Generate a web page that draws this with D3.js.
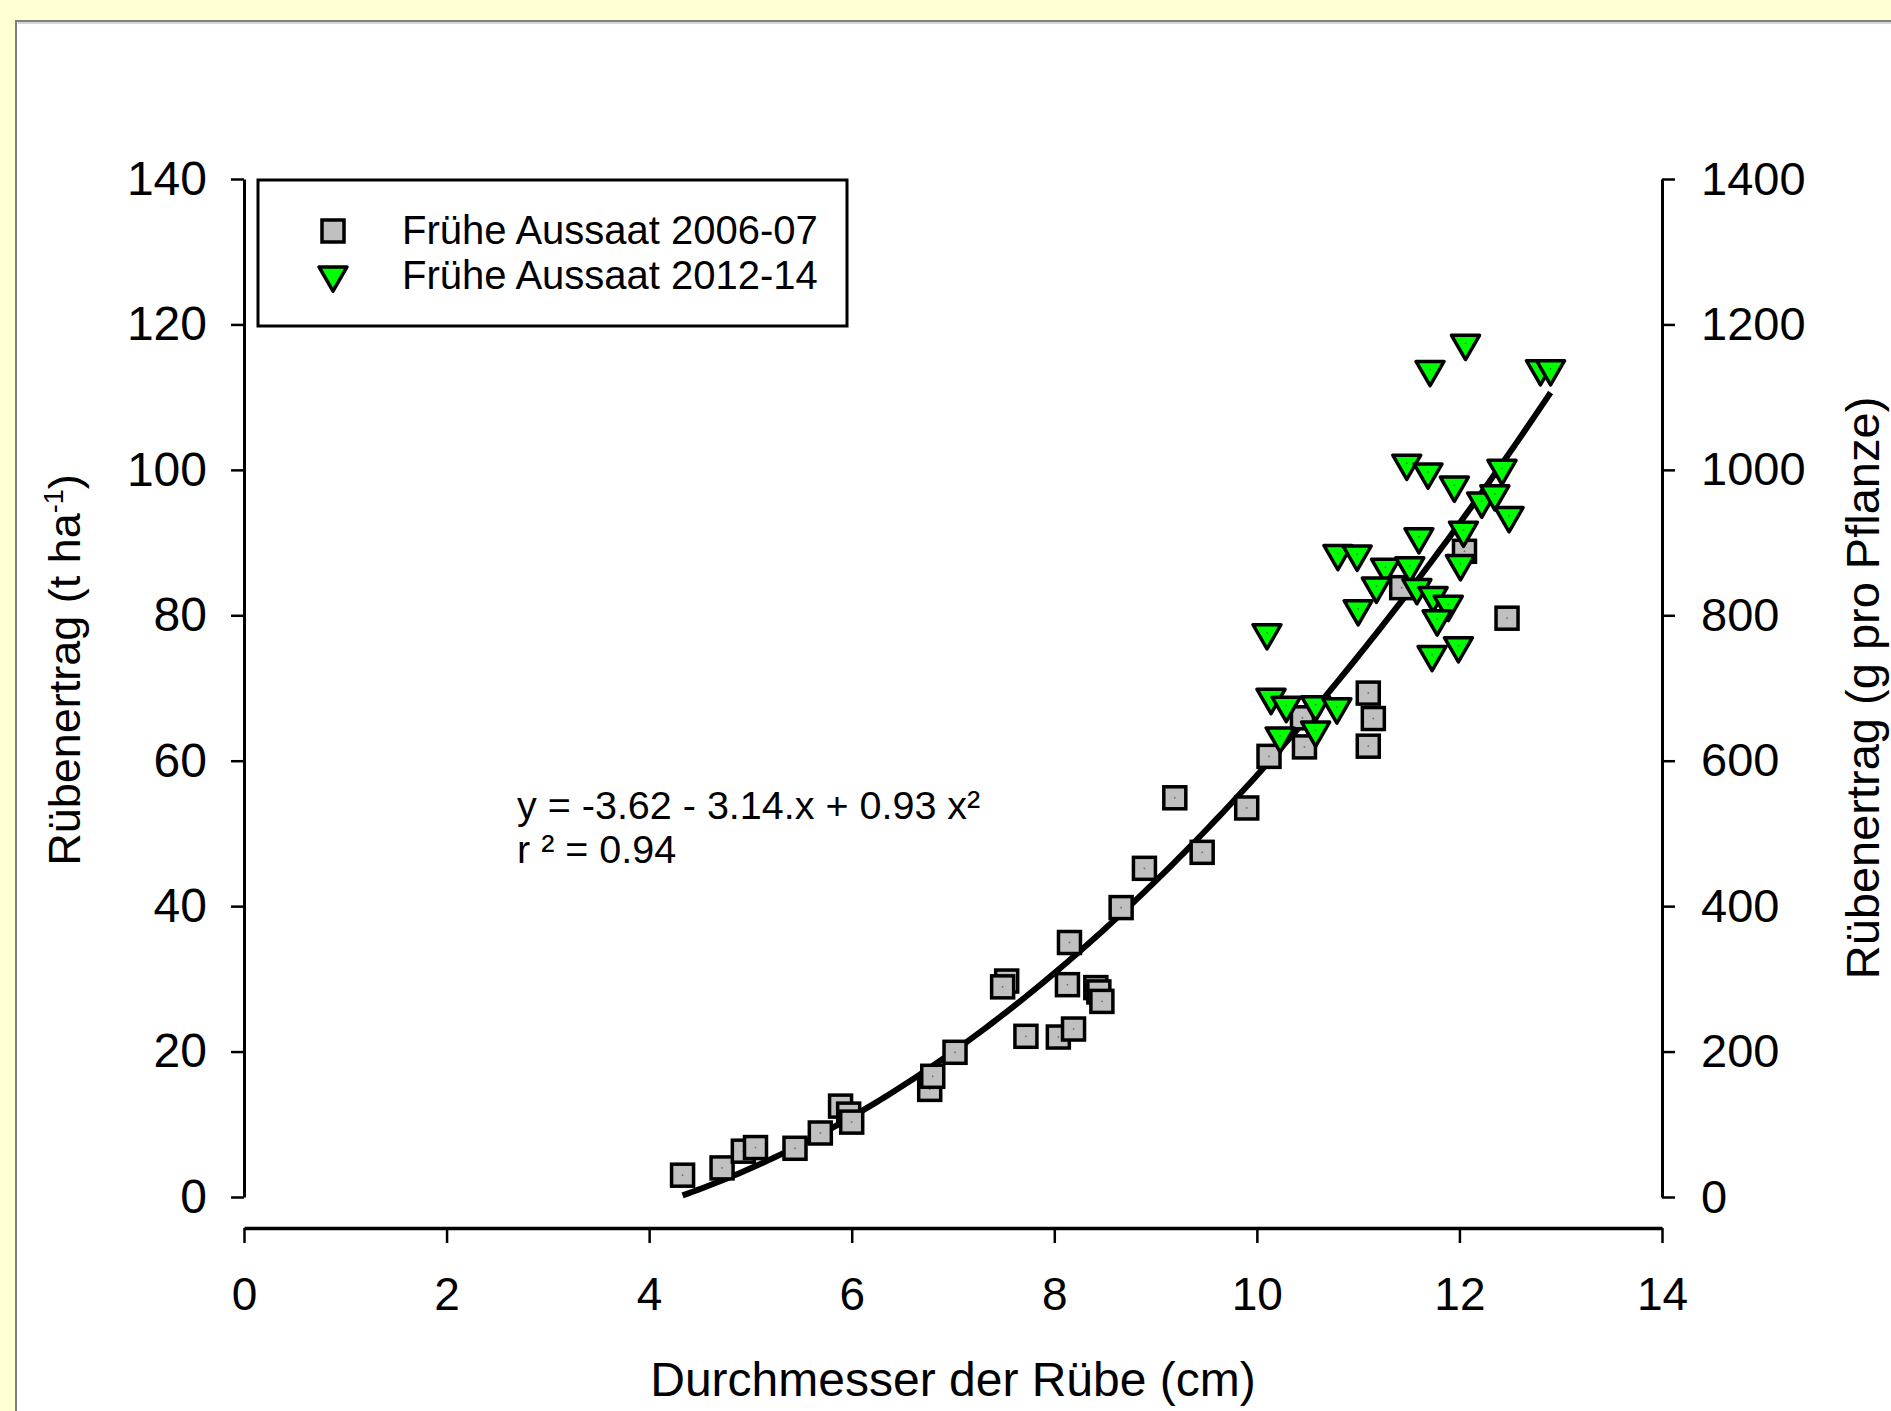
<!DOCTYPE html>
<html>
<head>
<meta charset="utf-8">
<script src="https://cdn.jsdelivr.net/npm/d3@7"></script>
<style>
  html, body { margin: 0; padding: 0; background: #ffffd4; }
  svg { display: block; }
  text { font-family: "Liberation Sans", Arial, sans-serif; fill: #000; }
</style>
</head>
<body>
<script>
// Rübendurchmesser (cm) und Rübenertrag (t/ha), frühe Aussaat 2006-07
const diam2006 = [4.33, 4.72, 4.93, 5.05, 5.44, 5.69, 5.89, 5.97, 6.00, 6.77, 6.80, 7.02,
  7.53, 7.49, 7.72, 8.04, 8.19, 8.13, 8.15, 8.41, 8.44, 8.47, 8.66, 8.89,
  9.19, 9.46, 9.90, 10.12, 10.47, 10.45, 11.10, 11.15, 11.10, 11.43, 12.05, 12.47];
const yield2006 = [3.0, 4.0, 6.3, 6.8, 6.7, 8.8, 12.5, 11.4, 10.3, 14.8, 16.6, 19.9,
  29.7, 28.9, 22.1, 22.0, 23.1, 29.2, 35.0, 28.8, 28.2, 26.9, 39.8, 45.2,
  54.9, 47.4, 53.5, 60.6, 61.9, 65.9, 69.3, 65.8, 62.0, 83.8, 88.8, 79.6];

// frühe Aussaat 2012-14
const diam2012 = [12.06, 11.71, 12.80, 12.90, 11.48, 11.69, 11.95, 12.42, 12.22, 12.35, 12.49,
  12.04, 11.60, 10.80, 10.99, 11.27, 11.51, 12.01, 11.18, 11.58, 11.74, 11.89,
  11.78, 11.00, 10.10, 11.99, 11.73, 10.14, 10.29, 10.58, 10.79, 10.23, 10.58];
const yield2012 = [117.4, 113.8, 113.9, 113.9, 100.9, 99.7, 97.9, 100.2, 95.7, 96.7, 93.7,
  91.7, 90.8, 88.5, 88.4, 86.6, 86.8, 87.1, 84.0, 83.8, 82.7, 81.5,
  79.5, 80.9, 77.6, 75.8, 74.6, 68.7, 67.6, 67.7, 67.4, 63.4, 64.2];

// quadratische Regression: y = b0 + b1*x + b2*x^2
const fitCoef = [-3.62, -3.14, 0.93];
const fitRange = [4.33, 12.9];
const fitLabel = ["y = -3.62 - 3.14.x + 0.93 x²", "r ² = 0.94"];

const xTicks = [0, 2, 4, 6, 8, 10, 12, 14];
const yTicks = [0, 20, 40, 60, 80, 100, 120, 140];
const y2Ticks = [0, 200, 400, 600, 800, 1000, 1200, 1400];
const seriesNames = ["Frühe Aussaat 2006-07", "Frühe Aussaat 2012-14"];

const W = 1891, H = 1411;
const svg = d3.select("body").append("svg").attr("width", W).attr("height", H);

// Seitenhintergrund und weißes Blatt mit grauer Kante
svg.append("rect").attr("width", W).attr("height", H).attr("fill", "#ffffd4");
svg.append("rect").attr("x", 17).attr("y", 22).attr("width", W).attr("height", H).attr("fill", "#fff");
svg.append("line").attr("x1", 16).attr("x2", W).attr("y1", 21).attr("y2", 21)
  .attr("stroke", "#7f7f7f").attr("stroke-width", 2);
svg.append("line").attr("x1", 18).attr("x2", W).attr("y1", 23).attr("y2", 23)
  .attr("stroke", "#c8c8c8").attr("stroke-width", 1.5);
svg.append("line").attr("x1", 16).attr("x2", 16).attr("y1", 20).attr("y2", H)
  .attr("stroke", "#7f7f7f").attr("stroke-width", 2);

const x = d3.scaleLinear().domain([0, 14]).range([244, 1662]);
const y = d3.scaleLinear().domain([0, 140]).range([1197, 179]);
const y2 = d3.scaleLinear().domain([0, 1400]).range([1197, 179]);

function styleAxis(g, w, fs) {
  g.selectAll("path.domain").attr("stroke", "#000").attr("stroke-width", w);
  g.selectAll(".tick line").attr("stroke", "#000").attr("stroke-width", 2.5);
  g.selectAll(".tick text").style("font-family", "'Liberation Sans', Arial, sans-serif")
    .style("font-size", fs + "px").attr("fill", "#000");
}

const gL = svg.append("g").attr("transform", `translate(${x(0)},0)`)
  .call(d3.axisLeft(y).tickValues(yTicks).tickFormat(d3.format("d"))
    .tickSize(13).tickSizeOuter(0).tickPadding(24));
styleAxis(gL, 3, 48);

const gR = svg.append("g").attr("transform", `translate(${x(14)},0)`)
  .call(d3.axisRight(y2).tickValues(y2Ticks).tickFormat(d3.format("d"))
    .tickSize(13).tickSizeOuter(0).tickPadding(26));
styleAxis(gR, 3, 47);

const gB = svg.append("g").attr("transform", "translate(0,1228)")
  .call(d3.axisBottom(x).tickValues(xTicks).tickFormat(d3.format("d"))
    .tickSize(15).tickSizeOuter(0).tickPadding(34));
styleAxis(gB, 3.5, 46);

// Achsentitel
svg.append("text").attr("x", x(7)).attr("y", 1396).attr("text-anchor", "middle")
  .style("font-size", "48px").text("Durchmesser der Rübe (cm)");

const tl = svg.append("text").attr("transform", `translate(80,${(y(0) + y(140)) / 2 - 18}) rotate(-90)`)
  .attr("text-anchor", "middle").style("font-size", "45px");
tl.append("tspan").text("Rübenertrag (t ha");
tl.append("tspan").attr("dy", -17).style("font-size", "27px").text("-1");
tl.append("tspan").attr("dy", 17).text(")");

svg.append("text").attr("transform", `translate(1879,${(y(0) + y(140)) / 2}) rotate(-90)`)
  .attr("text-anchor", "middle").style("font-size", "47px").text("Rübenertrag (g pro Pflanze)");

// Regressionskurve
const curveX = d3.range(fitRange[0], fitRange[1] + 1e-9, 0.05);
if (curveX[curveX.length - 1] < fitRange[1]) curveX.push(fitRange[1]);
const fit = v => fitCoef[0] + fitCoef[1] * v + fitCoef[2] * v * v;
svg.append("path").datum(curveX)
  .attr("d", d3.line().x(d => x(d)).y(d => y(fit(d))))
  .attr("fill", "none").attr("stroke", "#000").attr("stroke-width", 6);

// Symbole
const sq = 22, tri = 28;
const triPath = s => {
  const h = s * Math.sqrt(3) / 2;
  return `M${-s / 2},${-h / 3}L${s / 2},${-h / 3}L0,${2 * h / 3}Z`;
};

const pts2006 = diam2006.map((d, i) => [d, yield2006[i]]);
const pts2012 = diam2012.map((d, i) => [d, yield2012[i]]);

const gs = svg.append("g").selectAll("g").data(pts2006).join("g")
  .attr("transform", d => `translate(${x(d[0])},${y(d[1])})`);
gs.append("rect").attr("x", -sq / 2).attr("y", -sq / 2).attr("width", sq).attr("height", sq)
  .attr("fill", "#c0c0c0").attr("stroke", "#000").attr("stroke-width", 3.5);
gs.append("rect").attr("x", -0.75).attr("y", -0.75).attr("width", 1.5).attr("height", 1.5).attr("fill", "#666");

const gt = svg.append("g").selectAll("g").data(pts2012).join("g")
  .attr("transform", d => `translate(${x(d[0])},${y(d[1])})`);
gt.append("path").attr("d", triPath(tri))
  .attr("fill", "#00ff00").attr("stroke", "#000").attr("stroke-width", 3.5).attr("stroke-linejoin", "round");
gt.append("rect").attr("x", -0.75).attr("y", -0.75).attr("width", 1.5).attr("height", 1.5).attr("fill", "#0a8a0a");

// Gleichung
const eq = svg.append("text").style("font-size", "39.5px");
fitLabel.forEach((t, i) => eq.append("tspan").attr("x", 517).attr("y", 819 + i * 44).text(t));

// Legende
const lg = svg.append("g");
lg.append("rect").attr("x", 258).attr("y", 180).attr("width", 589).attr("height", 146)
  .attr("fill", "#fff").attr("stroke", "#000").attr("stroke-width", 3);
lg.append("rect").attr("x", 333 - sq / 2).attr("y", 231 - sq / 2).attr("width", sq).attr("height", sq)
  .attr("fill", "#c0c0c0").attr("stroke", "#000").attr("stroke-width", 3.5);
lg.append("path").attr("transform", "translate(333,275)").attr("d", triPath(tri))
  .attr("fill", "#00ff00").attr("stroke", "#000").attr("stroke-width", 3.5).attr("stroke-linejoin", "round");
seriesNames.forEach((n, i) => lg.append("text").attr("x", 402).attr("y", 244 + i * 44.5)
  .style("font-size", "40px").text(n));
</script>
</body>
</html>
